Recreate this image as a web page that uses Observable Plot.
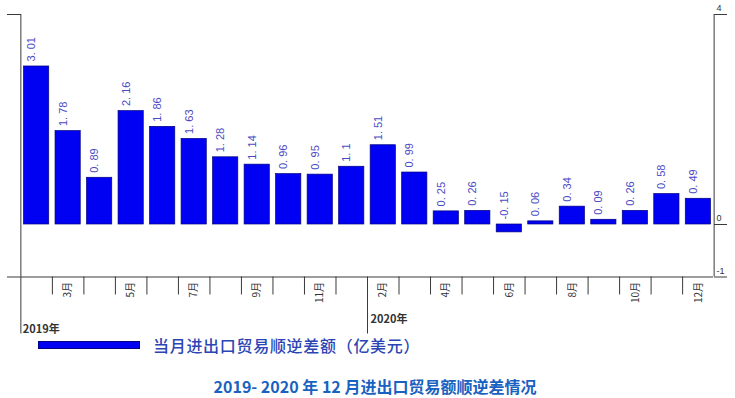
<!DOCTYPE html>
<html>
<head>
<meta charset="utf-8">
<script src="https://cdn.jsdelivr.net/npm/d3@7"></script>
<script src="https://cdn.jsdelivr.net/npm/@observablehq/plot@0.6"></script>
<style>
  html, body { margin: 0; padding: 0; background: #fff; }
  #wrap { position: relative; width: 735px; height: 398px; overflow: hidden; }
  #chart { position: absolute; left: 0; top: 0; }
  #legend { position: absolute; left: 38px; top: 336px; display: flex; align-items: center;
    font-family: "Noto Sans CJK SC", sans-serif; font-size: 16px; font-weight: 500; color: #2b45b5; line-height: 18px; letter-spacing: 0.7px; }
  #legend .sw { width: 102px; height: 8px; background: #0000f2; border: 0.5px solid #000080; margin-right: 13px; box-sizing: border-box; }
  #title { position: absolute; left: 0; top: 376px; width: 735px; padding-left: 15px; box-sizing: border-box; text-align: center;
    font-family: "Noto Sans CJK SC", sans-serif; font-weight: bold; font-size: 16px; color: #1a62c0; line-height: 20px; }
</style>
</head>
<body>
<div id="wrap">
  <div id="chart"></div>
  <div id="legend"><span class="sw"></span><span id="legendText"></span></div>
  <div id="title"></div>
</div>
<script>
// ---- data ----
const periods = [
  "2019年1-2月","2019年3月","2019年4月","2019年5月","2019年6月","2019年7月",
  "2019年8月","2019年9月","2019年10月","2019年11月","2019年12月",
  "2020年1-2月","2020年3月","2020年4月","2020年5月","2020年6月","2020年7月",
  "2020年8月","2020年9月","2020年10月","2020年11月","2020年12月"
];
const balance = [3.01, 1.78, 0.89, 2.16, 1.86, 1.63, 1.28, 1.14, 0.96, 0.95, 1.1,
                 1.51, 0.99, 0.25, 0.26, -0.15, 0.06, 0.34, 0.09, 0.26, 0.58, 0.49];
const tickLabels = ["", "3月", "", "5月", "", "7月", "", "9月", "", "11月", "",
                    "2月", "", "4月", "", "6月", "", "8月", "", "10月", "", "12月"];
const yearLabels = ["2019年", "2020年"];
const yearStartPeriods = ["2019年1-2月", "2020年1-2月"];
const leftTicks = [-1, 4];
const rightTicks = [-1, 0, 4];
const legendLabel = "当月进出口贸易顺逆差额（亿美元）";
const titleText = "2019- 2020 年 12 月进出口贸易额顺逆差情况";

const data = periods.map((p, i) => ({
  period: p,
  value: balance[i],
  label: String(balance[i]).replace(".", ". "),
  tick: tickLabels[i]
}));
const tickOf = new Map(data.map(d => [d.period, d.tick]));

// ---- layout ----
const W = 735, H = 338, ML = 21, MR = 22, MT = 14, MB = 61.5;
const padIn = 0.2, padOut = 0.08;
const step = (W - ML - MR) / (periods.length - padIn + 2 * padOut);
const half = step / 2;
const axisColor = "#3a3a3a";
const numFont = "'Liberation Sans', Arial, sans-serif";
const cjkFont = "'Noto Sans CJK SC', sans-serif";

const chart = Plot.plot({
  width: W, height: H,
  marginLeft: ML, marginRight: MR, marginTop: MT, marginBottom: MB,
  style: { background: "transparent", overflow: "visible" },
  x: { type: "band", domain: periods, paddingInner: padIn, paddingOuter: padOut, round: false, axis: null },
  y: { domain: [-1, 4], axis: null },
  marks: [
    Plot.barY(data, { x: "period", y: "value", fill: "#0000f2", stroke: "#000080", strokeWidth: 0.7 }),
    Plot.text(data, {
      x: "period", y: d => Math.max(0, d.value), text: "label",
      rotate: -90, textAnchor: "start", lineAnchor: "middle",
      dx: -5, dy: -5, fill: "#4a4ac4", fontSize: 11, fontFamily: numFont
    }),
    // frame bottom line (x axis)
    Plot.ruleY([-1], { stroke: axisColor }),
    // left axis line and right axis line
    Plot.ruleX([periods[0]], { dx: -half, stroke: axisColor }),
    Plot.ruleX([periods[periods.length - 1]], { dx: half, stroke: axisColor }),
    // left & right y ticks
    Plot.axisY(leftTicks, { anchor: "left", tickSize: 14, tickFormat: () => "", label: null, stroke: axisColor }),
    Plot.axisY(rightTicks, { anchor: "right", tickSize: 13, tickFormat: () => "", label: null, stroke: axisColor }),
    Plot.text(rightTicks, {
      y: d => d, text: d => String(d), frameAnchor: "right",
      textAnchor: "start", dx: 3, dy: -6, fontSize: 9, fill: "#333", fontFamily: numFont
    }),
    // category boundary ticks
    Plot.axisX(periods.filter(p => !yearStartPeriods.includes(p)), {
      anchor: "bottom", tickSize: 18, dx: -half, tickFormat: () => "", label: null, stroke: axisColor
    }),
    // year separators
    Plot.axisX(yearStartPeriods, {
      anchor: "bottom", tickSize: 57, dx: -half, tickFormat: () => "", label: null, stroke: axisColor
    }),
    // month labels
    Plot.axisX(periods.filter(p => tickOf.get(p)), {
      anchor: "bottom", tickSize: 0, tickPadding: 5, tickRotate: -90,
      tickFormat: p => tickOf.get(p), label: null,
      fontSize: 10, fill: "#333", fontFamily: cjkFont
    }),
    // year labels
    Plot.text([yearLabels[0]], {
      x: () => yearStartPeriods[0], text: d => d, frameAnchor: "bottom",
      textAnchor: "start", dx: -half + 2, dy: 56, fontSize: 11, fontWeight: "bold", fill: "#333", fontFamily: cjkFont
    }),
    Plot.text([yearLabels[1]], {
      x: () => yearStartPeriods[1], text: d => d, frameAnchor: "bottom",
      textAnchor: "start", dx: -half + 3, dy: 46, fontSize: 11, fontWeight: "bold", fill: "#333", fontFamily: cjkFont
    })
  ]
});
document.getElementById("chart").appendChild(chart);
document.getElementById("legendText").textContent = legendLabel;
document.getElementById("title").textContent = titleText;
</script>
</body>
</html>
